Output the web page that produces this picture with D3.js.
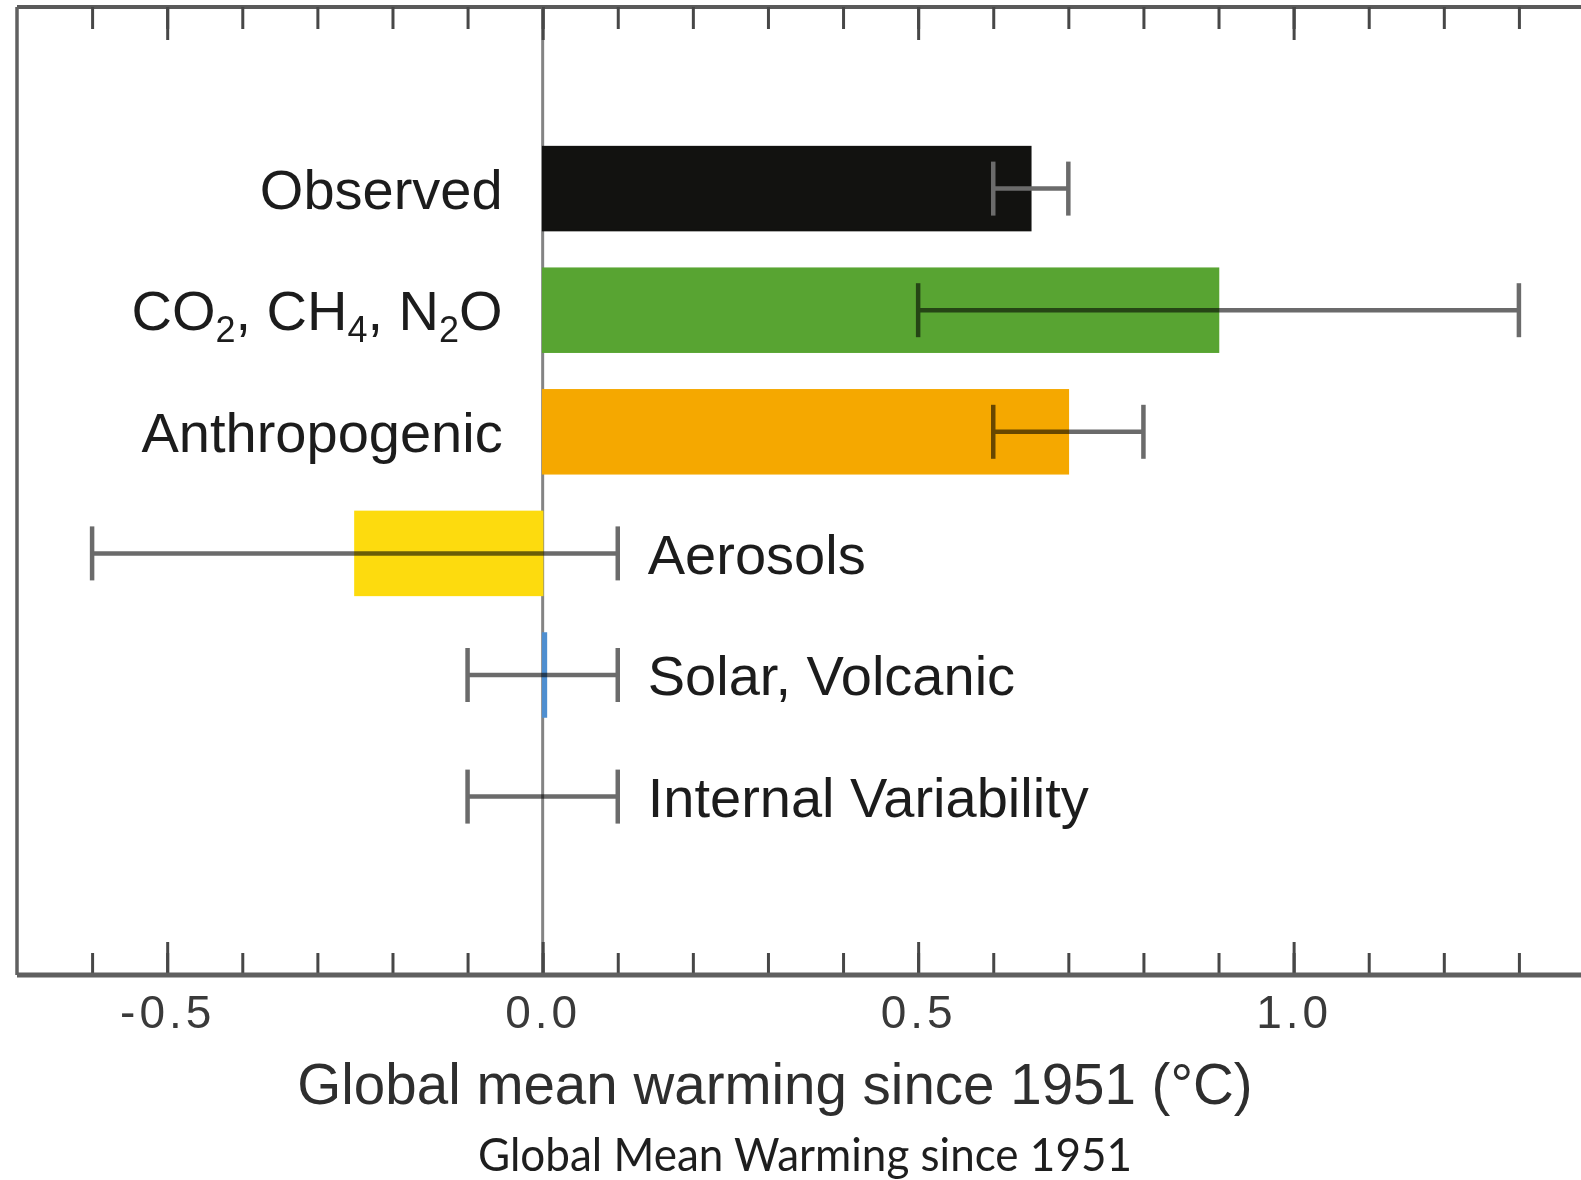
<!DOCTYPE html>
<html>
<head>
<meta charset="utf-8">
<script src="https://cdn.jsdelivr.net/npm/d3@7"></script>
<style>
  html, body { margin: 0; padding: 0; background: #ffffff; }
  svg { display: block; }
</style>
</head>
<body>
<svg id="chart" width="1581" height="1180"></svg>
<script>
// Contributions to global mean warming since 1951 (°C), with likely ranges
const categories = ["Observed", "CO₂, CH₄, N₂O", "Anthropogenic", "Aerosols", "Solar, Volcanic", "Internal Variability"];
const warming    = [0.65, 0.9, 0.7, -0.25, 0.005, 0];
const rangeLow   = [0.6, 0.5, 0.6, -0.6, -0.1, -0.1];
const rangeHigh  = [0.7, 1.3, 0.8, 0.1, 0.1, 0.1];
const barColors  = ["#121210", "#58a432", "#f5a800", "#fddb0e", "#4f8fd0", null];

const majorTicks = [-0.5, 0.0, 0.5, 1.0];
const minorTicks = [-0.6, -0.5, -0.4, -0.3, -0.2, -0.1, 0.0, 0.1, 0.2, 0.3, 0.4, 0.5, 0.6, 0.7, 0.8, 0.9, 1.0, 1.1, 1.2, 1.3];
const axisTitle = "Global mean warming since 1951 (°C)";
const caption = "Global Mean Warming since 1951";

const rows = categories.map((c, i) => ({
  name: c, value: warming[i], lo: rangeLow[i], hi: rangeHigh[i], color: barColors[i]
}));

const svg = d3.select("#chart");
const frameTop = 7, frameBottom = 975;

const x = d3.scaleLinear().domain([-0.7, 1.4]).range([17, 1594]);
const y = d3.scalePoint().domain(categories).range([188.6, 796.6]);
const barH = 84;
const capHalf = 27;

const fmt = d3.formatLocale({decimal: ".", thousands: ",", grouping: [3], currency: ["", ""], minus: "-"}).format(".1f");

// Frame: top line, left edge, bottom axis line
svg.append("line").attr("x1", x(-0.7)).attr("x2", 1581).attr("y1", frameTop).attr("y2", frameTop)
  .attr("stroke", "#5a5a5a").attr("stroke-width", 4);
svg.append("line").attr("x1", x(-0.7)).attr("x2", x(-0.7)).attr("y1", frameTop).attr("y2", frameBottom)
  .attr("stroke", "#606060").attr("stroke-width", 3.5);

// Zero reference line
svg.append("line").attr("x1", x(0)).attr("x2", x(0)).attr("y1", frameTop).attr("y2", frameBottom)
  .attr("stroke", "#848484").attr("stroke-width", 3);

// Bars
svg.append("g").selectAll("rect")
  .data(rows.filter(d => d.color))
  .join("rect")
  .attr("x", d => Math.min(x(0), x(d.value)))
  .attr("width", d => Math.abs(x(d.value) - x(0)))
  .attr("y", d => y(d.name) - barH / 2)
  .attr("height", barH)
  .attr("fill", d => d.color)
  .attr("stroke", d => d.color)
  .attr("stroke-width", 1.5);

// Likely-range whiskers
const err = svg.append("g").selectAll("g")
  .data(rows)
  .join("g")
  .attr("stroke", "#6b6b6b")
  .attr("stroke-width", 4.5)
  .style("mix-blend-mode", d => (d.color && d3.hsl(d.color).l < 0.2) ? "normal" : "multiply");
err.append("line")
  .attr("x1", d => x(d.lo)).attr("x2", d => x(d.hi))
  .attr("y1", d => y(d.name)).attr("y2", d => y(d.name));
err.append("line")
  .attr("x1", d => x(d.lo)).attr("x2", d => x(d.lo))
  .attr("y1", d => y(d.name) - capHalf).attr("y2", d => y(d.name) + capHalf);
err.append("line")
  .attr("x1", d => x(d.hi)).attr("x2", d => x(d.hi))
  .attr("y1", d => y(d.name) - capHalf).attr("y2", d => y(d.name) + capHalf);

// Bottom axis: minor and major ticks pointing inward, labels beneath
const bottomMinor = svg.append("g").attr("transform", `translate(0,${frameBottom})`)
  .call(d3.axisBottom(x).tickValues(minorTicks).tickSize(-22).tickFormat(""));
const bottomMajor = svg.append("g").attr("transform", `translate(0,${frameBottom})`)
  .call(d3.axisBottom(x).tickValues(majorTicks).tickSize(-33).tickPadding(20).tickFormat(fmt));
// Top axis: ticks only
const topMinor = svg.append("g").attr("transform", `translate(0,${frameTop})`)
  .call(d3.axisTop(x).tickValues(minorTicks).tickSize(-22).tickFormat(""));
const topMajor = svg.append("g").attr("transform", `translate(0,${frameTop})`)
  .call(d3.axisTop(x).tickValues(majorTicks).tickSize(-33).tickFormat(""));

[bottomMinor, bottomMajor, topMinor, topMajor].forEach(g => {
  g.select(".domain").remove();
  g.selectAll(".tick line").attr("stroke", "#474747").attr("stroke-width", 3);
});
bottomMajor.selectAll(".tick text")
  .attr("fill", "#3a3a3a")
  .style("font-family", "'Liberation Sans', Arial, sans-serif")
  .style("font-size", "46px")
  .style("letter-spacing", "4px");

svg.append("line").attr("x1", x(-0.7)).attr("x2", 1581).attr("y1", frameBottom).attr("y2", frameBottom)
  .attr("stroke", "#5f5f5f").attr("stroke-width", 5);

// Category labels: positive contributions left of the zero line, others right of their range
const labelFont = "'Liberation Sans', Arial, sans-serif";
const subMap = {"₀": "0", "₁": "1", "₂": "2", "₃": "3", "₄": "4", "₅": "5", "₆": "6", "₇": "7", "₈": "8", "₉": "9"};

const labels = svg.append("g").selectAll("text")
  .data(rows)
  .join("text")
  .attr("x", d => d.value > 0.05 ? x(0) - 40 : x(d.hi) + 30)
  .attr("y", d => y(d.name))
  .attr("dy", "0.36em")
  .attr("text-anchor", d => d.value > 0.05 ? "end" : "start")
  .attr("fill", "#1c1c1c")
  .style("font-family", labelFont)
  .style("font-size", "56px");

labels.each(function(d) {
  const t = d3.select(this);
  // split into normal runs and subscript digits
  const parts = [];
  for (const ch of d.name) {
    const sub = ch in subMap;
    const last = parts[parts.length - 1];
    if (last && last.sub === sub) last.text += sub ? subMap[ch] : ch;
    else parts.push({text: sub ? subMap[ch] : ch, sub});
  }
  let shifted = false;
  parts.forEach(p => {
    const ts = t.append("tspan").text(p.text);
    if (p.sub) { ts.attr("dy", 12).style("font-size", "36px"); shifted = true; }
    else if (shifted) { ts.attr("dy", -12); shifted = false; }
  });
});

// Axis title and caption
svg.append("text")
  .attr("x", 775).attr("y", 1104)
  .attr("text-anchor", "middle")
  .attr("fill", "#2e2e2e")
  .style("font-family", labelFont)
  .style("font-size", "56.5px")
  .text(axisTitle);

svg.append("text")
  .attr("x", 805).attr("y", 1171)
  .attr("text-anchor", "middle")
  .attr("fill", "#1e1e1e")
  .attr("textLength", 654)
  .attr("lengthAdjust", "spacingAndGlyphs")
  .style("font-family", "Lato, 'Open Sans', sans-serif")
  .style("font-size", "47px")
  .text(caption);
</script>
</body>
</html>
